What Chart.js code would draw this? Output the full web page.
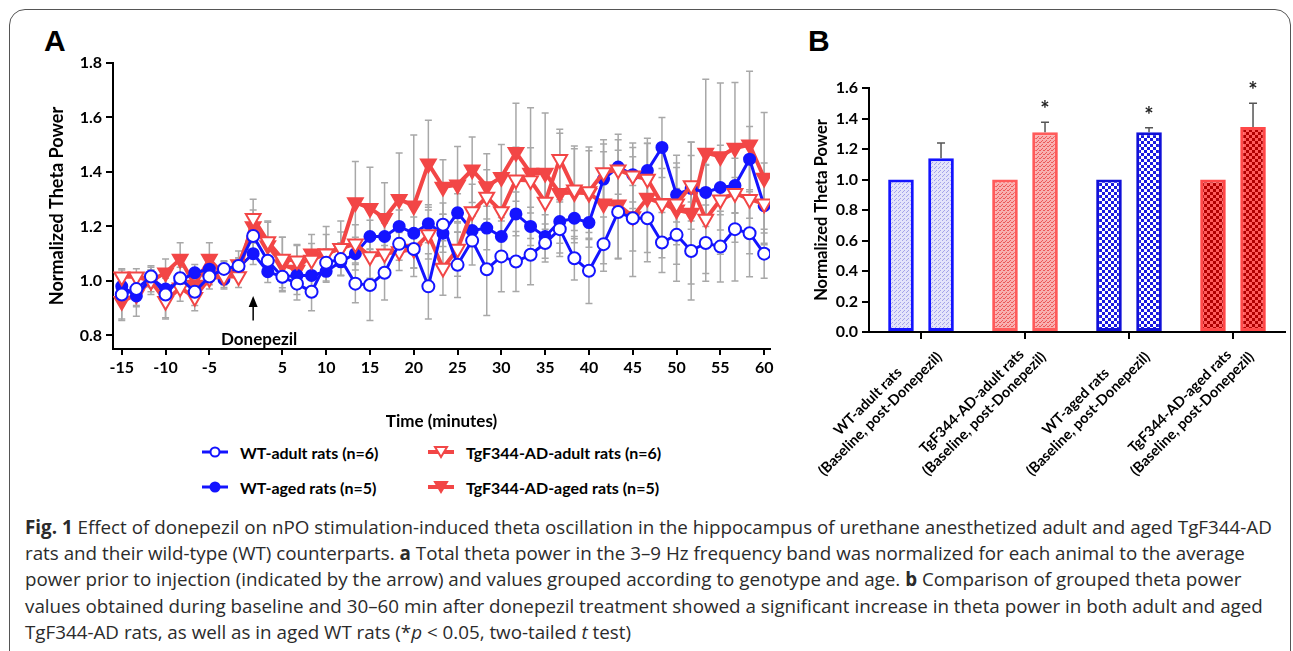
<!DOCTYPE html>
<html>
<head>
<meta charset="utf-8">
<script src="https://cdn.jsdelivr.net/npm/chart.js@4.4.1/dist/chart.umd.min.js"></script>
<style>
    body { margin: 0; background: #fff; }
    #figure { position: relative; width: 1293px; height: 651px; overflow: hidden; background: #fff; }
    .frame { position: absolute; left: 9px; top: 9px; width: 1280px; height: 720px; border: 1.5px solid #555; border-radius: 16px; }
    .panel-label { position: absolute; font: bold 30px "Liberation Sans", Arial, sans-serif; color: #000; }
    canvas { position: absolute; }
    #chartA { left: 0; top: 0; }
    #chartB { left: 790px; top: 0; }
    .legend-item { position: absolute; height: 20px; display: flex; align-items: center; font: bold 16px Lato, sans-serif; color: #000; white-space: nowrap; }
    .legend-item canvas { position: static; margin-right: 12px; }
    .caption { position: absolute; left: 25px; top: 514px; font: 18.8px "Open Sans", sans-serif; line-height: 26.2px; color: #2b2b2b; white-space: nowrap; }
</style>
</head>
<body>
<div id="figure">
    <div class="frame"></div>
    <div class="panel-label" style="left:44px; top:24px;">A</div>
    <div class="panel-label" style="left:808px; top:24px;">B</div>
    <canvas id="chartA" width="790" height="435"></canvas>
    <canvas id="chartB" width="500" height="500"></canvas>
    <div id="legendA"></div>
    <div class="caption"><b>Fig. 1</b> Effect of donepezil on nPO stimulation-induced theta oscillation in the hippocampus of urethane anesthetized adult and aged TgF344-AD<br>rats and their wild-type (WT) counterparts. <b>a</b> Total theta power in the 3–9 Hz frequency band was normalized for each animal to the average<br>power prior to injection (indicated by the arrow) and values grouped according to genotype and age. <b>b</b> Comparison of grouped theta power<br>values obtained during baseline and 30–60 min after donepezil treatment showed a significant increase in theta power in both adult and aged<br>TgF344-AD rats, as well as in aged WT rats (*<i>p</i> &lt; 0.05, two-tailed <i>t</i> test)</div>
</div>
<script>
// ---- Panel A : valeurs (un point toutes les ~100 s) ----
const wtAdult = [0.95, 0.97, 1.016, 0.95, 1.01, 0.96, 1.016, 1.044, 1.055, 1.165, 1.074, 1.015, 0.99, 0.96, 1.067, 1.08,
    0.99, 0.985, 1.03, 1.136, 1.117, 0.98, 1.206, 1.059, 1.148, 1.043, 1.09, 1.071, 1.096, 1.139, 1.19,
    1.083, 1.037, 1.135, 1.253, 1.23, 1.23, 1.141, 1.169, 1.11, 1.139, 1.126, 1.19, 1.175, 1.10];
const wtAged = [0.98, 0.945, 1.01, 0.97, 1.0, 1.03, 1.043, 1.006, 1.05, 1.10, 1.034, 1.015, 1.02, 1.02, 1.035, 1.07,
    1.10, 1.163, 1.163, 1.20, 1.175, 1.21, 1.175, 1.25, 1.185, 1.194, 1.163, 1.246, 1.20, 1.163, 1.218,
    1.23, 1.214, 1.374, 1.418, 1.39, 1.405, 1.49, 1.316, 1.34, 1.325, 1.343, 1.35, 1.447, 1.276];
const tgAdult = [1.015, 1.015, 1.0, 0.925, 0.975, 0.94, 1.01, 1.016, 1.016, 1.23, 1.145, 1.08, 1.074, 1.077, 1.10, 1.12,
    1.136, 1.09, 1.10, 1.108, 1.117, 1.17, 1.047, 1.117, 1.255, 1.308, 1.255, 1.371, 1.369, 1.29, 1.447,
    1.335, 1.328, 1.398, 1.408, 1.386, 1.374, 1.283, 1.283, 1.35, 1.227, 1.298, 1.322, 1.30, 1.283];
const tgAged = [0.925, 0.95, 1.0, 1.03, 1.08, 0.985, 1.08, 1.02, 1.06, 1.2, 1.13, 1.06, 1.04, 1.1, 1.1, 1.12,
    1.288, 1.267, 1.23, 1.30, 1.276, 1.43, 1.345, 1.353, 1.408, 1.347, 1.381, 1.472, 1.396, 1.396, 1.322,
    1.325, 1.322, 1.283, 1.28, 1.236, 1.304, 1.285, 1.261, 1.249, 1.47, 1.457, 1.488, 1.50, 1.378];

// Erros (SEM) estimados das barras cinzentas
const wtAdultErr = [0.09, 0.06, 0.04, 0.09, 0.04, 0.05, 0.03, 0.03, 0.03, 0.05, 0.05, 0.05, 0.06, 0.07, 0.05, 0.06,
    0.07, 0.13, 0.1, 0.06, 0.07, 0.12, 0.08, 0.12, 0.09, 0.17, 0.13, 0.11, 0.11, 0.07, 0.1,
    0.08, 0.12, 0.1, 0.17, 0.12, 0.16, 0.11, 0.17, 0.18, 0.14, 0.13, 0.19, 0.16, 0.09];
const wtAgedErr = [0.05, 0.04, 0.03, 0.04, 0.03, 0.03, 0.03, 0.03, 0.03, 0.04, 0.04, 0.04, 0.05, 0.05, 0.04, 0.05,
    0.06, 0.06, 0.05, 0.06, 0.06, 0.07, 0.07, 0.07, 0.06, 0.08, 0.07, 0.08, 0.07, 0.08, 0.08,
    0.09, 0.09, 0.1, 0.1, 0.1, 0.1, 0.11, 0.1, 0.12, 0.1, 0.1, 0.1, 0.12, 0.1];
const tgAdultErr = [0.03, 0.03, 0.04, 0.06, 0.05, 0.05, 0.04, 0.03, 0.04, 0.07, 0.07, 0.08, 0.06, 0.06, 0.07, 0.06,
    0.07, 0.08, 0.06, 0.07, 0.07, 0.09, 0.1, 0.1, 0.1, 0.1, 0.11, 0.12, 0.12, 0.1, 0.11,
    0.15, 0.15, 0.12, 0.13, 0.12, 0.15, 0.13, 0.15, 0.16, 0.2, 0.2, 0.18, 0.2, 0.15];
const tgAgedErr = [0.07, 0.08, 0.05, 0.05, 0.06, 0.05, 0.06, 0.05, 0.05, 0.06, 0.09, 0.1, 0.09, 0.07, 0.1, 0.1,
    0.15, 0.15, 0.13, 0.17, 0.26, 0.16, 0.1, 0.14, 0.12, 0.12, 0.12, 0.18, 0.24, 0.22, 0.22,
    0.17, 0.17, 0.22, 0.2, 0.22, 0.2, 0.2, 0.2, 0.26, 0.27, 0.27, 0.24, 0.27, 0.24];

const seriesNames = ['WT-adult rats (n=6)', 'TgF344-AD-adult rats (n=6)', 'WT-aged rats (n=5)', 'TgF344-AD-aged rats (n=5)'];

// l'axe du temps est coupé autour de l'injection : les ticks sont placés par indice d'échantillon
const xTickIndex = [0, 3, 6, 11, 14, 17, 20, 23, 26, 29, 32, 35, 38, 41, 44];
const xTickLabels = ['-15', '-10', '-5', '5', '10', '15', '20', '25', '30', '35', '40', '45', '50', '55', '60'];
const yTicksA = [0.8, 1.0, 1.2, 1.4, 1.6, 1.8];
const injectionIndex = 9;

// ---- Panel B ----
const groupNames = [
    ['WT-adult rats', '(Baseline, post-Donepezil)'],
    ['TgF344-AD-adult rats', '(Baseline, post-Donepezil)'],
    ['WT-aged rats', '(Baseline, post-Donepezil)'],
    ['TgF344-AD-aged rats', '(Baseline, post-Donepezil)']
];
const baselineValues = [1.0, 1.0, 1.0, 1.0];
const postValues = [1.14, 1.31, 1.31, 1.345];
const postErrors = [0.10, 0.065, 0.03, 0.155];
const significant = [false, true, true, true];
const yTicksB = [0, 0.2, 0.4, 0.6, 0.8, 1.0, 1.2, 1.4, 1.6];

const BLUE = '#1414ff';
const RED = '#f24646';
const FONT = 'Lato, sans-serif';

Chart.defaults.font.family = FONT;
Chart.defaults.font.weight = 'bold';
Chart.defaults.color = '#000';

/**
 * Motif de remplissage pour les barres (pointillé ou damier)
 */
function makePattern(size, background, foreground, cells) {
    const c = document.createElement('canvas');
    c.width = size;
    c.height = size;
    const g = c.getContext('2d');
    g.fillStyle = background;
    g.fillRect(0, 0, size, size);
    g.fillStyle = foreground;
    cells.forEach(([x, y, w, h]) => g.fillRect(x, y, w, h));
    return g.createPattern(c, 'repeat');
}

const patterns = [
    makePattern(4, '#e4e4fa', '#a4a4ea', [[0, 0, 1, 1], [2, 2, 1, 1], [1, 3, 1, 1]]),
    makePattern(4, '#f8b0b0', '#ec5858', [[0, 0, 1, 1], [2, 2, 1, 1], [3, 1, 1, 1], [1, 2, 1, 1]]),
    makePattern(6, '#ffffff', '#1a1ae0', [[0, 0, 3, 3], [3, 3, 3, 3]]),
    makePattern(6, '#ff5c5c', '#b00000', [[0, 0, 3, 3], [3, 3, 3, 3]])
];
const barBorders = [BLUE, '#ff5a5a', '#1010d8', '#ff4848'];

// Barras de erro (cinza) desenhadas sob as linhas
const errorBarsA = {
    id: 'errorBarsA',
    beforeDatasetsDraw(chart) {
        const ctx = chart.ctx;
        const y = chart.scales.y;
        ctx.save();
        ctx.strokeStyle = '#a8a8a8';
        ctx.lineWidth = 1.5;
        chart.data.datasets.forEach((ds, di) => {
            const meta = chart.getDatasetMeta(di);
            meta.data.forEach((pt, i) => {
                const hi = y.getPixelForValue(ds.data[i] + ds.errors[i]);
                const lo = y.getPixelForValue(ds.data[i] - ds.errors[i]);
                ctx.beginPath();
                ctx.moveTo(pt.x, hi); ctx.lineTo(pt.x, lo);
                ctx.moveTo(pt.x - 3.5, hi); ctx.lineTo(pt.x + 3.5, hi);
                ctx.moveTo(pt.x - 3.5, lo); ctx.lineTo(pt.x + 3.5, lo);
                ctx.stroke();
            });
        });
        ctx.restore();
    }
};

// Flèche "Donepezil" au moment de l'injection
const injectionArrow = {
    id: 'injectionArrow',
    afterDraw(chart) {
        const ctx = chart.ctx;
        const x = chart.scales.x.getPixelForValue(injectionIndex);
        const tip = chart.scales.y.getPixelForValue(0.945);
        const tail = chart.scales.y.getPixelForValue(0.855);
        ctx.save();
        ctx.strokeStyle = '#000';
        ctx.fillStyle = '#000';
        ctx.lineWidth = 1.5;
        ctx.beginPath();
        ctx.moveTo(x, tail); ctx.lineTo(x, tip + 6);
        ctx.stroke();
        ctx.beginPath();
        ctx.moveTo(x, tip); ctx.lineTo(x - 4.5, tip + 11); ctx.lineTo(x + 4.5, tip + 11);
        ctx.closePath();
        ctx.fill();
        ctx.font = 'bold 17px ' + FONT;
        ctx.textAlign = 'center';
        ctx.textBaseline = 'middle';
        ctx.fillText('Donepezil', x + 6, chart.scales.y.getPixelForValue(0.785));
        ctx.restore();
    }
};

function lineSeries(label, data, errors, color, style, filled, radius, width) {
    return {
        label, data, errors,
        borderColor: color,
        borderWidth: width,
        pointStyle: style,
        pointRotation: style === 'triangle' ? 180 : 0,
        pointRadius: radius,
        pointBorderWidth: 2,
        pointBorderColor: color,
        pointBackgroundColor: filled ? color : '#fff',
        tension: 0,
        fill: false
    };
}

const datasetsA = [
    lineSeries(seriesNames[0], wtAdult, wtAdultErr, BLUE, 'circle', false, 6, 3),
    lineSeries(seriesNames[1], tgAdult, tgAdultErr, RED, 'triangle', false, 8.5, 4),
    lineSeries(seriesNames[2], wtAged, wtAgedErr, BLUE, 'circle', true, 5.5, 3),
    lineSeries(seriesNames[3], tgAged, tgAgedErr, RED, 'triangle', true, 8.5, 4)
];

const chartA = new Chart(document.getElementById('chartA'), {
    type: 'line',
    data: {
        labels: wtAdult.map((_, i) => i),
        datasets: datasetsA
    },
    options: {
        responsive: false,
        animation: false,
        devicePixelRatio: 1,
        layout: { padding: { top: 63, right: 20, left: 0, bottom: 0 } },
        plugins: { legend: { display: false }, tooltip: { enabled: false } },
        scales: {
            x: {
                type: 'linear',
                min: -0.6,
                max: 44.4,
                afterBuildTicks: scale => { scale.ticks = xTickIndex.map(v => ({ value: v })); },
                afterFit: scale => { scale.height = 86; },
                ticks: {
                    autoSkip: false,
                    maxRotation: 0,
                    padding: 3,
                    font: { size: 16, weight: 'bold' },
                    callback: value => xTickLabels[xTickIndex.indexOf(value)]
                },
                grid: { drawOnChartArea: false, drawTicks: true, tickLength: 6, color: '#000', lineWidth: 2 },
                border: { color: '#000', width: 2 },
                title: { display: true, text: 'Time (minutes)', font: { size: 17, weight: 'bold' }, padding: { top: 4, bottom: 3 } }
            },
            y: {
                min: 0.75,
                max: 1.8,
                afterBuildTicks: scale => { scale.ticks = yTicksA.map(v => ({ value: v })); },
                afterFit: scale => { scale.width = 113; },
                ticks: {
                    padding: 4,
                    font: { size: 16, weight: 'bold' },
                    callback: value => value.toFixed(1)
                },
                grid: { drawOnChartArea: false, drawTicks: true, tickLength: 7, color: '#000', lineWidth: 2 },
                border: { color: '#000', width: 2 },
                title: { display: true, text: 'Normalized Theta Power', font: { size: 18, weight: 'bold' }, padding: { top: 46, bottom: 0 } }
            }
        }
    },
    plugins: [errorBarsA, injectionArrow]
});

// Légende du panneau A (icône ligne + marqueur)
const legendSlots = [
    { series: 0, left: 202, top: 442 },
    { series: 1, left: 428, top: 442 },
    { series: 2, left: 202, top: 477 },
    { series: 3, left: 428, top: 477 }
];
const legendEl = document.getElementById('legendA');
legendSlots.forEach(slot => {
    const ds = datasetsA[slot.series];
    const item = document.createElement('div');
    item.className = 'legend-item';
    item.style.left = slot.left + 'px';
    item.style.top = slot.top + 'px';
    const icon = document.createElement('canvas');
    icon.width = 26;
    icon.height = 20;
    const g = icon.getContext('2d');
    g.strokeStyle = ds.borderColor;
    g.lineWidth = ds.borderWidth;
    g.beginPath(); g.moveTo(0, 10); g.lineTo(26, 10); g.stroke();
    g.fillStyle = ds.pointBackgroundColor;
    g.strokeStyle = ds.pointBorderColor;
    g.lineWidth = 2;
    g.beginPath();
    if (ds.pointStyle === 'triangle') {
        g.moveTo(13 - 6, 5); g.lineTo(13 + 6, 5); g.lineTo(13, 15); g.closePath();
    } else {
        g.arc(13, 10, 4.5, 0, Math.PI * 2);
    }
    g.fill();
    g.stroke();
    item.appendChild(icon);
    item.appendChild(document.createTextNode(ds.label));
    legendEl.appendChild(item);
});

// ---- Panel B ----
const errorBarsB = {
    id: 'errorBarsB',
    afterDatasetsDraw(chart) {
        const ctx = chart.ctx;
        const y = chart.scales.y;
        const meta = chart.getDatasetMeta(1);
        ctx.save();
        ctx.strokeStyle = '#555';
        ctx.lineWidth = 1.5;
        ctx.fillStyle = '#222';
        ctx.font = 'bold 22px ' + FONT;
        ctx.textAlign = 'center';
        ctx.textBaseline = 'middle';
        meta.data.forEach((bar, i) => {
            const top = y.getPixelForValue(postValues[i] + postErrors[i]);
            ctx.beginPath();
            ctx.moveTo(bar.x, bar.y); ctx.lineTo(bar.x, top);
            ctx.moveTo(bar.x - 4, top); ctx.lineTo(bar.x + 4, top);
            ctx.stroke();
            if (significant[i]) {
                ctx.fillText('*', bar.x, top - 12);
            }
        });
        ctx.restore();
    }
};

// Libellés des groupes, inclinés à 45° et centrés ligne par ligne
const groupLabels = {
    id: 'groupLabels',
    afterDraw(chart) {
        const ctx = chart.ctx;
        const xs = chart.scales.x;
        const top = chart.chartArea.bottom + 4;
        ctx.save();
        ctx.font = 'bold 14.5px ' + FONT;
        ctx.fillStyle = '#000';
        ctx.textAlign = 'center';
        ctx.textBaseline = 'middle';
        groupNames.forEach((lines, i) => {
            const widest = Math.max(...lines.map(l => ctx.measureText(l).width));
            ctx.save();
            ctx.translate(xs.getPixelForTick(i), top);
            ctx.rotate(-Math.PI / 4);
            lines.forEach((line, k) => ctx.fillText(line, -widest / 2, (k + 0.5) * 17.5));
            ctx.restore();
        });
        ctx.restore();
    }
};

const chartB = new Chart(document.getElementById('chartB'), {
    type: 'bar',
    data: {
        labels: groupNames.map(g => g[0]),
        datasets: [
            {
                label: 'Baseline',
                data: baselineValues,
                backgroundColor: patterns,
                borderColor: barBorders,
                borderWidth: 3,
                borderSkipped: false,
                categoryPercentage: 0.77,
                barPercentage: 0.64
            },
            {
                label: 'post-Donepezil',
                data: postValues,
                backgroundColor: patterns,
                borderColor: barBorders,
                borderWidth: 3,
                borderSkipped: false,
                categoryPercentage: 0.77,
                barPercentage: 0.64
            }
        ]
    },
    options: {
        responsive: false,
        animation: false,
        devicePixelRatio: 1,
        layout: { padding: { top: 88, right: 5, left: 0, bottom: 0 } },
        plugins: { legend: { display: false }, tooltip: { enabled: false } },
        scales: {
            x: {
                afterFit: scale => { scale.height = 168; },
                ticks: { display: false },
                grid: { offset: false, drawOnChartArea: false, drawTicks: true, tickLength: 7, color: '#000', lineWidth: 2 },
                border: { color: '#000', width: 2 }
            },
            y: {
                min: 0,
                max: 1.6,
                afterBuildTicks: scale => { scale.ticks = yTicksB.map(v => ({ value: v })); },
                afterFit: scale => { scale.width = 79; },
                ticks: { padding: 4, font: { size: 16, weight: 'bold' }, callback: value => value.toFixed(1) },
                grid: { drawOnChartArea: false, drawTicks: true, tickLength: 7, color: '#000', lineWidth: 2 },
                border: { color: '#000', width: 2 },
                title: { display: true, text: 'Normalized Theta Power', font: { size: 16.5, weight: 'bold' }, padding: { top: 22, bottom: 0 } }
            }
        }
    },
    plugins: [errorBarsB, groupLabels]
});
</script>
</body>
</html>
